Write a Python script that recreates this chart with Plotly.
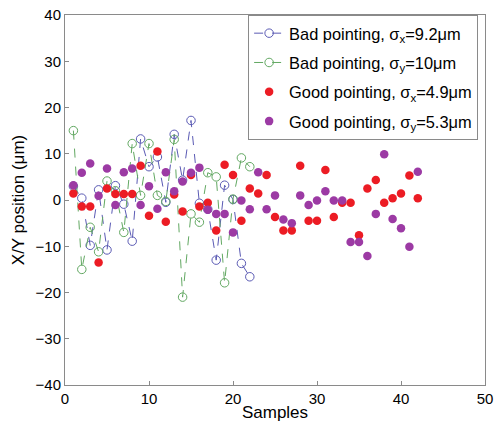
import plotly.graph_objects as go

samples_bad = list(range(1, 23))
samples_good = list(range(1, 43))

bad_x = [3.0, 0.4, -9.8, 2.2, -10.8, 3.1, -0.9, -8.9, 13.2, 7.2, 9.3, -0.5,
         14.2, 4.3, 17.2, -0.7, -2.0, -13.0, 3.2, 0.1, -13.7, -16.6]
bad_y = [15.0, -15.0, -5.9, -11.2, 4.1, 2.0, -7.0, 12.2, 1.0, 12.2, 1.0, -0.3,
         13.1, -21.0, -3.0, -4.8, 5.9, 5.0, -17.9, 0.2, 9.1, 7.2]
good_x = [1.4, -1.4, -1.4, -13.5, 2.5, 1.3, 1.3, 1.3, 7.4, -3.4, 10.5, -4.7,
          1.2, -2.5, 5.4, -1.4, -0.6, -6.6, 7.6, 5.4, -4.5, 2.5, 1.4, 5.4,
          -3.7, -6.6, -6.6, 7.4, -4.5, -4.5, 6.5, -3.7, -0.6, -0.6, -7.6, 2.5,
          4.3, -0.6, 0.4, 1.4, 5.3, 0.4]
good_y = [3.2, 5.9, 7.9, 0.9, 6.8, -1.1, 6.0, 6.8, -1.1, 3.0, -1.9, 6.0,
          1.9, 4.0, 5.9, 7.0, -2.1, -3.0, -3.0, -7.0, -0.1, -2.0, 6.0, -2.0,
          1.0, -4.2, -5.0, 1.0, -1.1, -0.1, 1.9, -0.1, -0.1, -9.1, -9.1, -12.1,
          -3.0, 9.9, -4.1, -6.1, -10.1, 6.1]

names = ["Bad pointing, σ<sub>x</sub>=9.2μm", "Bad pointing, σ<sub>y</sub>=10μm",
         "Good pointing, σ<sub>x</sub>=4.9μm", "Good pointing, σ<sub>y</sub>=5.3μm"]

BLUE = "#5a5ab4"
GREEN = "#62a862"
RED = "#ec1c24"
PURPLE = "#9c3aa4"
FONT = "Liberation Sans, Arial, sans-serif"

fig = go.Figure()
fig.add_trace(go.Scatter(x=samples_bad, y=bad_x, mode="lines+markers", name=names[0],
                         legendgroup="a",
                         line=dict(color=BLUE, width=1, dash="dash"),
                         marker=dict(symbol="circle-open", size=8.5, color=BLUE, line=dict(width=1))))
fig.add_trace(go.Scatter(x=samples_bad, y=bad_y, mode="lines+markers", name=names[1],
                         legendgroup="b",
                         line=dict(color=GREEN, width=1, dash="dash"),
                         marker=dict(symbol="circle-open", size=8.5, color=GREEN, line=dict(width=1))))
fig.add_trace(go.Scatter(x=samples_good, y=good_x, mode="markers", name=names[2],
                         legendgroup="c",
                         marker=dict(symbol="circle", size=8.5, color=RED)))
fig.add_trace(go.Scatter(x=samples_good, y=good_y, mode="markers", name=names[3],
                         legendgroup="d",
                         marker=dict(symbol="circle", size=8.5, color=PURPLE)))

axis_common = dict(showline=True, linecolor="#8a8a8a", linewidth=1, mirror=True,
                   ticks="inside", ticklen=4, tickcolor="#8a8a8a", showgrid=False,
                   zeroline=False, automargin=False, ticklabeloverflow="allow",
                   tickfont=dict(family=FONT, size=15, color="black"))

fig.update_layout(
    width=498, height=428,
    margin=dict(l=65, r=13, t=15, b=43),
    plot_bgcolor="white", paper_bgcolor="white",
    font=dict(family=FONT, color="black"),
    xaxis=dict(range=[0, 50], tickvals=[0, 10, 20, 30, 40, 50],
               title=dict(text="Samples", font=dict(family=FONT, size=17), standoff=0),
               **axis_common),
    yaxis=dict(range=[-40, 40], tickvals=[-40, -30, -20, -10, 0, 10, 20, 30, 40],
               title=dict(text="X/Y position (μm)", font=dict(family=FONT, size=17), standoff=6),
               **axis_common),
    legend=dict(x=0.436, y=1, xanchor="left", yanchor="top",
                bgcolor="white", bordercolor="#8a8a8a", borderwidth=1,
                font=dict(family=FONT, size=16.4, color="black"),
                traceorder="grouped", tracegroupgap=5,
                itemwidth=30),
    showlegend=True,
)

fig.write_html("out.html",
               config={"displayModeBar": False},
               post_script="document.body.style.margin='0';document.body.style.overflow='hidden';")
